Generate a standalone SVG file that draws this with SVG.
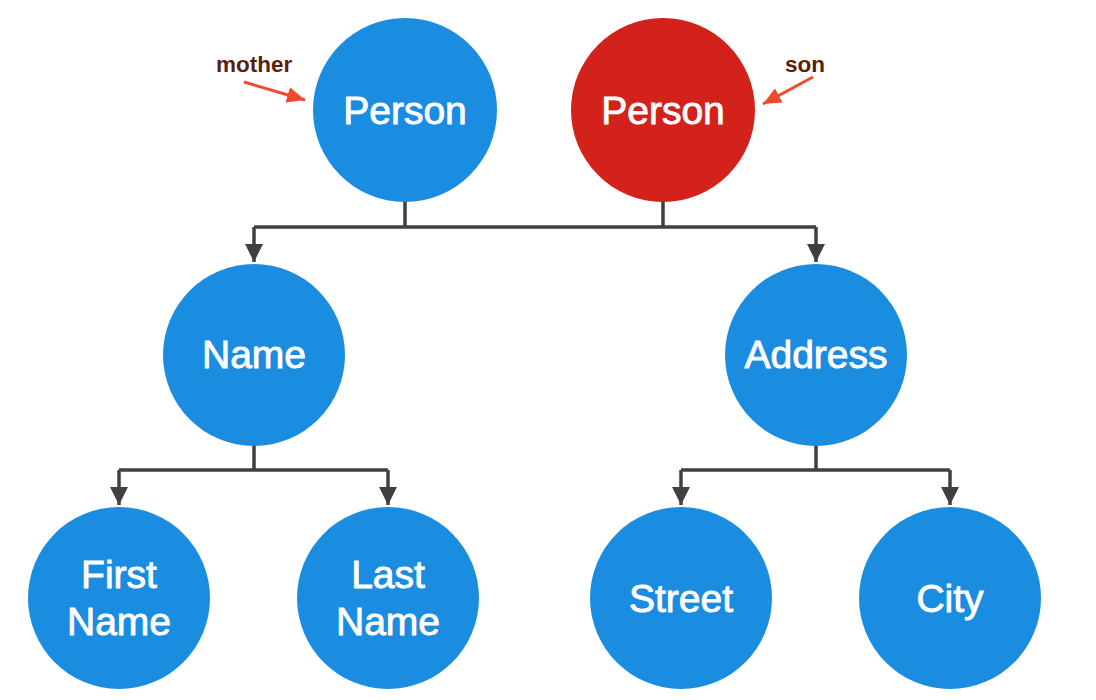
<svg xmlns="http://www.w3.org/2000/svg" width="1096" height="700" viewBox="0 0 1096 700">
<style>
.node{fill:#1b8de0}
.red{fill:#d3211b}
.lbl{font-family:"Liberation Sans",Arial,sans-serif;font-size:39px;fill:#ffffff;stroke:#ffffff;stroke-width:0.9px;text-anchor:middle}
.note{font-family:"Liberation Sans",Arial,sans-serif;font-size:22.5px;font-weight:bold;fill:#5a1e0a}
.conn{fill:none;stroke:#404040;stroke-width:3.5}
.ptr{fill:none;stroke:#f04a2c;stroke-width:3}
</style>
<defs>
<marker id="ah" markerUnits="userSpaceOnUse" viewBox="0 0 18 18" markerWidth="18" markerHeight="18" refX="18" refY="9" orient="auto">
<path d="M0,0 L18,9 L0,18 z" fill="#404040"/>
</marker>
<marker id="rh" markerUnits="userSpaceOnUse" viewBox="0 0 18 16" markerWidth="18" markerHeight="16" refX="18" refY="8" orient="auto">
<path d="M0,0 L18,8 L0,16 z" fill="#f04a2c"/>
</marker>
</defs>
<rect width="1096" height="700" fill="#ffffff"/>
<g id="connectors">
<path class="conn" d="M405 200 V227 M663 200 V227 M254 227 H816"/>
<path class="conn" d="M254 227 V262" marker-end="url(#ah)"/>
<path class="conn" d="M816 227 V262" marker-end="url(#ah)"/>
<path class="conn" d="M254 444 V470 M119 470 H388"/>
<path class="conn" d="M119 470 V505" marker-end="url(#ah)"/>
<path class="conn" d="M388 470 V505" marker-end="url(#ah)"/>
<path class="conn" d="M816 444 V470 M681 470 H950"/>
<path class="conn" d="M681 470 V505" marker-end="url(#ah)"/>
<path class="conn" d="M950 470 V505" marker-end="url(#ah)"/>
</g>
<g id="mother-label">
<text class="note" x="216" y="72">mother</text>
<path class="ptr" d="M244 82 L305 100" marker-end="url(#rh)"/>
</g>
<g id="son-label">
<text class="note" x="785" y="72">son</text>
<path class="ptr" d="M813 77 L763 104" marker-end="url(#rh)"/>
</g>
<g id="person-mother">
<circle class="node" cx="405" cy="110" r="92"/>
<text class="lbl" x="405" y="124">Person</text>
</g>
<g id="person-son">
<circle class="red" cx="663" cy="110" r="92"/>
<text class="lbl" x="663" y="124">Person</text>
</g>
<g id="name">
<circle class="node" cx="254" cy="355" r="91"/>
<text class="lbl" x="254" y="368">Name</text>
</g>
<g id="address">
<circle class="node" cx="816" cy="355" r="91"/>
<text class="lbl" x="816" y="368">Address</text>
</g>
<g id="first-name">
<circle class="node" cx="119" cy="598" r="91"/>
<text class="lbl" x="119" y="588">First</text>
<text class="lbl" x="119" y="635">Name</text>
</g>
<g id="last-name">
<circle class="node" cx="388" cy="598" r="91"/>
<text class="lbl" x="388" y="588">Last</text>
<text class="lbl" x="388" y="635">Name</text>
</g>
<g id="street">
<circle class="node" cx="681" cy="598" r="91"/>
<text class="lbl" x="681" y="612">Street</text>
</g>
<g id="city">
<circle class="node" cx="950" cy="598" r="91"/>
<text class="lbl" x="950" y="612">City</text>
</g>
</svg>
